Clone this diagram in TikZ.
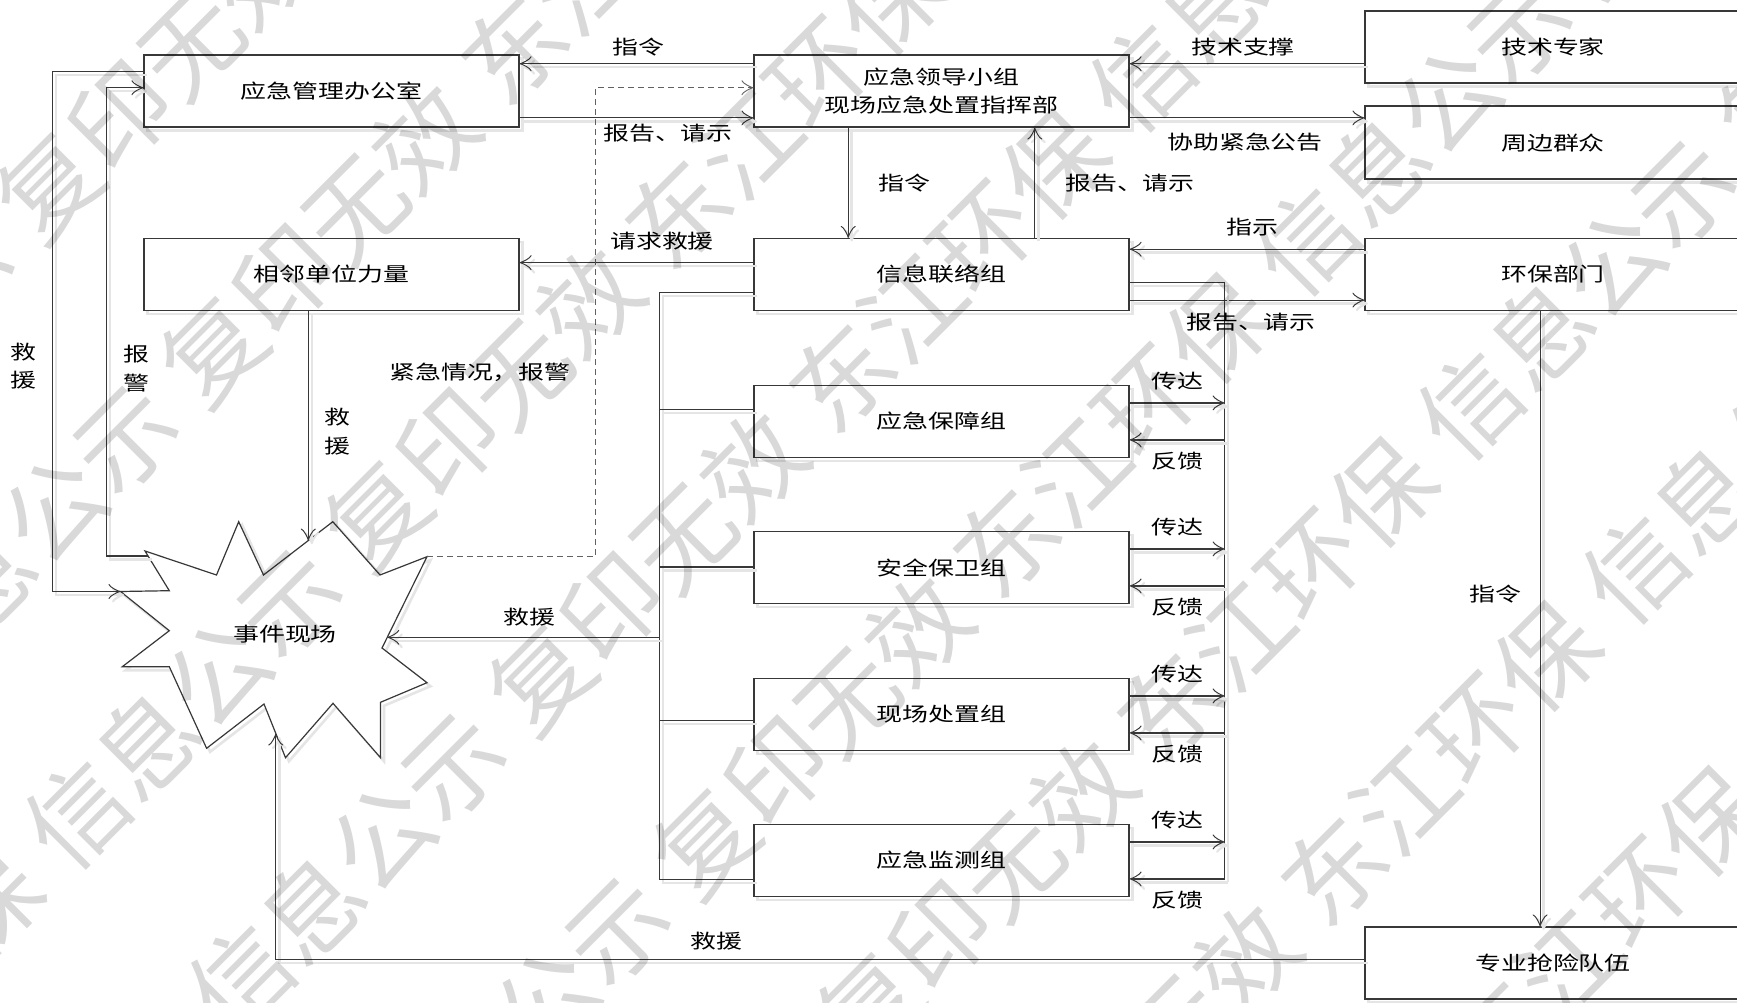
\documentclass[tikz,border=0pt]{standalone}
\usepackage{fontspec}
\setmainfont{Noto Sans CJK SC}[FakeStretch=1.33]
\newfontfamily\wmfont{Noto Sans CJK SC}
\usetikzlibrary{arrows.meta}
\begin{document}
\begin{tikzpicture}[x=1pt,y=-1pt,
  font=\fontsize{19.5pt}{28.3pt}\selectfont,
  ln/.style={draw=black!78, line width=1.2pt},
  shad/.style={preaction={draw=black!10, line width=2.6pt, transform canvas={shift={(3.5pt,-3.5pt)}}}},
  box/.style={ln, shad, fill=white, inner sep=0pt, minimum height=72pt, align=center},
  lbox/.style={box, minimum width=375pt},
  rbox/.style={box, minimum width=376pt},
  con/.style={ln, shad},
  tip/.style={-{Classical TikZ Rightarrow[length=12pt,width=15pt]}},
  arr/.style={con, tip},
  dsh/.style={draw=black!62, line width=1.1pt, dash pattern=on 6pt off 4pt, tip},
  lab/.style={inner sep=0pt, align=center},
  wm/.style={font=\wmfont\fontsize{100pt}{100pt}\selectfont, text=black, text opacity=0.15, inner sep=0pt, anchor=west, rotate=45}
]
\useasboundingbox (0,0) rectangle (1737,1003);
\clip (0,0) rectangle (1737,1003);
\fill[white] (0,0) rectangle (1737,1003);

% ---------- boxes ----------
\node[lbox] (office)   at (331.5,91)    {应急管理办公室};
\node[lbox] (neighbor) at (331.5,274.5) {相邻单位力量};
\node[lbox] (leader)   at (941.5,91)    {应急领导小组\\现场应急处置指挥部};
\node[lbox] (info)     at (941.5,274.5) {信息联络组};
\node[lbox] (g1)       at (941.5,421.5) {应急保障组};
\node[lbox] (g2)       at (941.5,567.5) {安全保卫组};
\node[lbox] (g3)       at (941.5,714.5) {现场处置组};
\node[lbox] (g4)       at (941.5,860.5) {应急监测组};
\node[rbox] (expert)   at (1553,47)     {技术专家};
\node[rbox, minimum height=73pt] (crowd) at (1553,142.6) {周边群众};
\node[rbox] (env)      at (1553,274.5)  {环保部门};
\node[rbox] (team)     at (1553,963)    {专业抢险队伍};

% ---------- star (event site) ----------
\coordinate (s1) at (145,551);
\coordinate (s2) at (216.5,575);
\coordinate (s3) at (238.7,521.7);
\coordinate (s4) at (263.5,575);
\coordinate (s5) at (332.8,521.7);
\coordinate (s6) at (380,575);
\coordinate (s7) at (427,556.7);
\coordinate (s8) at (382,648);
\coordinate (s9) at (427,682.7);
\coordinate (s10) at (380.5,702.3);
\coordinate (s11) at (380.5,757.7);
\coordinate (s12) at (333,703.3);
\coordinate (s13) at (285.5,757.7);
\coordinate (s14) at (264,704);
\coordinate (s15) at (206.6,748.3);
\coordinate (s16) at (169.3,666.7);
\coordinate (s17) at (122.3,666.7);
\coordinate (s18) at (169.3,630.7);
\coordinate (s19) at (120.5,591.5);
\coordinate (s20) at (169.3,590.7);
\draw[ln, shad, fill=white] (s1) -- (s2) -- (s3) -- (s4) -- (s5) -- (s6) -- (s7) -- (s8) -- (s9) -- (s10)
  -- (s11) -- (s12) -- (s13) -- (s14) -- (s15) -- (s16) -- (s17) -- (s18) -- (s19) -- (s20) -- cycle;
\node[lab] (scene) at (285,634) {事件现场};

% hit points on the star outline
\coordinate (hitbus) at (387.3,637.3);
\coordinate (hitn) at (308.3,540.6);
\coordinate (hitt) at (275.8,733.5);
\coordinate (alarm) at (148.1,556);

% ---------- top connectors ----------
\draw[arr] ([yshift=-9.3pt]leader.north west) -- ([yshift=-9.3pt]office.north east);
\draw[arr] ([yshift=9.7pt]office.south east) -- ([yshift=9.7pt]leader.south west);
\coordinate (t1) at ([yshift=-9.3pt]leader.north east);
\draw[arr] (t1 -| expert.west) -- (t1);
\coordinate (t2) at ([yshift=9.7pt]leader.south east);
\draw[arr] (t2) -- (t2 -| crowd.west);
\coordinate (t3) at ([yshift=-11.3pt]info.north east);
\draw[arr] (t3 -| env.west) -- (t3);
\coordinate (t4) at ([yshift=11pt]info.south east);
\draw[arr] (t4) -- (t4 -| env.west);
\draw[arr] ([yshift=-24.7pt]info.north west) -- ([yshift=-24.7pt]neighbor.north east);
\draw[arr] ([xshift=94.8pt]leader.south west) -- ([xshift=94.8pt]info.north west);
\draw[arr] ([xshift=281.4pt]info.north west) -- ([xshift=281.4pt]leader.south west);
\draw[arr] ([xshift=175.7pt]env.south west) -- ([xshift=175.7pt]team.north west);

% ---------- left bus ----------
\coordinate (busl) at ([xshift=-94pt]info.west);
\coordinate (lb) at ([yshift=-54.5pt]info.north west);
\coordinate (g1l) at ([yshift=-24.5pt]g1.north west);
\coordinate (g2l) at ([yshift=-36pt]g2.north west);
\coordinate (g3l) at ([yshift=-42.5pt]g3.north west);
\coordinate (g4l) at ([yshift=-55.5pt]g4.north west);
\draw[con] (lb) -| (g4l -| busl) -- (g4l);
\draw[con] (g1l) -- (g1l -| busl);
\draw[con] (g2l) -- (g2l -| busl);
\draw[con] (g3l) -- (g3l -| busl);
\draw[arr] (hitbus -| busl) -- (hitbus);

% ---------- right bus ----------
\coordinate (busr) at ([xshift=95pt]info.east);
\coordinate (rb) at ([yshift=-44.7pt]info.north east);
\foreach \g in {g1,g2,g3,g4}{
  \coordinate (\g t) at ([yshift=-18pt]\g.north east);
  \coordinate (\g f) at ([yshift=-55pt]\g.north east);
}
\draw[con] (rb) -| (g4f -| busr);
\foreach \g in {g1,g2,g3,g4}{
  \draw[arr] (\g t) -- (\g t -| busr);
  \draw[arr] (\g f -| busr) -- (\g f);
}

% ---------- star connections ----------
\coordinate (dl) at ([yshift=-33.3pt]leader.north west);
\coordinate (dcorner) at ([xshift=-158pt]dl);
\draw[dsh] (s7) -| (dcorner) -- (dl);
\coordinate (ol) at ([yshift=-33.3pt]office.north west);
\coordinate (ac) at ([xshift=-37pt]ol);
\draw[arr] (alarm) -| (ac) -- (ol);
\coordinate (ol2) at ([yshift=-17.3pt]office.north west);
\coordinate (rc) at ([xshift=-91pt]ol2);
\draw[arr] (ol2) -- (rc) |- (s19);
\draw[arr] (hitn |- neighbor.south) -- (hitn);
\coordinate (tl) at ([yshift=-33pt]team.north west);
\draw[arr] (tl) -| (hitt);

% ---------- labels ----------
\node[lab] (L1) at (638,46.7) {指令};
\node[lab] (L2) at (668,133) {报告、请示};
\node[lab] (L3) at (1243,46.7) {技术支撑};
\node[lab] (L4) at (1245,141.7) {协助紧急公告};
\node[lab] (L5) at (904,183.3) {指令};
\node[lab] (L6) at (1130,183.3) {报告、请示};
\node[lab] (L7) at (1252,226.7) {指示};
\node[lab] (L8) at (1251,321.7) {报告、请示};
\node[lab] (L9) at (662,241) {请求救援};
\node[lab] (L10) at (23.6,366) {救\\援};
\node[lab] (L11) at (136,368.5) {报\\警};
\node[lab] (L12) at (480,372) {紧急情况，报警};
\node[lab] (L13) at (337.7,431.7) {救\\援};
\node[lab] (L14) at (529.5,616.7) {救援};
\node[lab] (L15) at (1495,594) {指令};
\node[lab] (L16) at (716.8,940.8) {救援};
\foreach \g in {g1,g2,g3,g4}{
  \node[lab] (\g c) at ([xshift=47.7pt,yshift=4pt]\g.north east) {传达};
  \node[lab] (\g b) at ([xshift=47.7pt,yshift=-76.5pt]\g.north east) {反馈};
}

% ---------- watermark ----------
\def\wmgap{\hspace{25pt}}
\def\wmtext{复印无效\wmgap 东江环保\wmgap 信息公示\wmgap}
\foreach \k in {0,...,7}{
  \node[wm] (wm\k) at ({(166+232*\k-1422)*0.70711},{(166+232*\k+1422)*0.70711}) {\wmtext\wmtext\wmtext};
}
\end{tikzpicture}
\end{document}
